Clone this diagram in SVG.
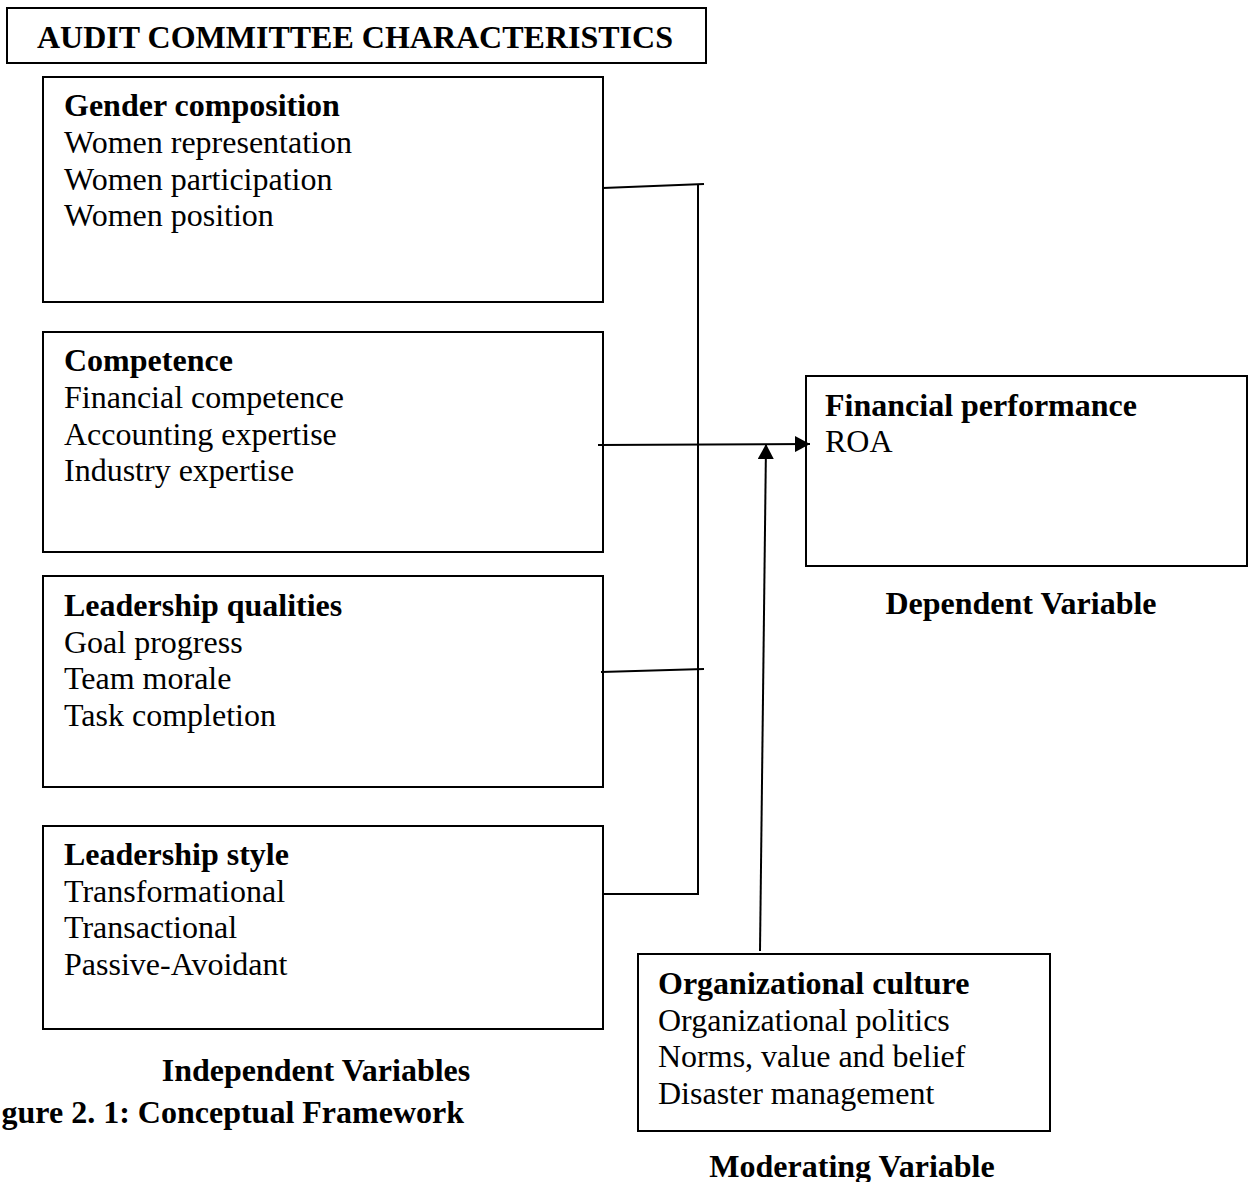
<svg xmlns="http://www.w3.org/2000/svg" width="1255" height="1182" viewBox="0 0 1255 1182">
<defs>
<style>
.box{fill:#fff;stroke:#000;stroke-width:2}
.t{font-family:"Liberation Serif","Times New Roman",serif;font-size:32px;fill:#000}
.b{font-weight:bold}
.ln{stroke:#000;stroke-width:2;fill:none}
</style>
<marker id="ah" markerWidth="16" markerHeight="16" refX="15" refY="8" orient="auto" markerUnits="userSpaceOnUse">
<path d="M0,0 L15,8 L0,16 Z" fill="#000"/>
</marker>
</defs>
<rect width="1255" height="1182" fill="#fff"/>
<g id="title">
<rect class="box" x="7" y="8" width="699" height="55"/>
<text class="t b" x="37" y="48">AUDIT COMMITTEE CHARACTERISTICS</text>
</g>
<g id="gender">
<rect class="box" x="43" y="77" width="560" height="225"/>
<text class="t b" x="64" y="116">Gender composition</text>
<text class="t" x="64" y="153">Women representation</text>
<text class="t" x="64" y="190">Women participation</text>
<text class="t" x="64" y="226">Women position</text>
</g>
<g id="competence">
<rect class="box" x="43" y="332" width="560" height="220"/>
<text class="t b" x="64" y="371">Competence</text>
<text class="t" x="64" y="408">Financial competence</text>
<text class="t" x="64" y="445">Accounting expertise</text>
<text class="t" x="64" y="481">Industry expertise</text>
</g>
<g id="leadership-qualities">
<rect class="box" x="43" y="576" width="560" height="211"/>
<text class="t b" x="64" y="616">Leadership qualities</text>
<text class="t" x="64" y="653">Goal progress</text>
<text class="t" x="64" y="689">Team morale</text>
<text class="t" x="64" y="726">Task completion</text>
</g>
<g id="leadership-style">
<rect class="box" x="43" y="826" width="560" height="203"/>
<text class="t b" x="64" y="865">Leadership style</text>
<text class="t" x="64" y="902">Transformational</text>
<text class="t" x="64" y="938">Transactional</text>
<text class="t" x="64" y="975">Passive-Avoidant</text>
</g>
<g id="financial-performance">
<rect class="box" x="806" y="376" width="441" height="190"/>
<text class="t b" x="825" y="416">Financial performance</text>
<text class="t" x="825" y="452">ROA</text>
</g>
<g id="organizational-culture">
<rect class="box" x="638" y="954" width="412" height="177"/>
<text class="t b" x="658" y="994">Organizational culture</text>
<text class="t" x="658" y="1031">Organizational politics</text>
<text class="t" x="658" y="1067">Norms, value and belief</text>
<text class="t" x="658" y="1104">Disaster management</text>
</g>
<g id="labels">
<text class="t b" x="1021" y="614" text-anchor="middle">Dependent Variable</text>
<text class="t b" x="316" y="1081" text-anchor="middle">Independent Variables</text>
<text class="t b" x="464" y="1123" text-anchor="end">gure 2. 1: Conceptual Framework</text>
<text class="t b" x="852" y="1177" text-anchor="middle">Moderating Variable</text>
</g>
<g id="connectors">
<line class="ln" x1="603" y1="188" x2="704" y2="184"/>
<line class="ln" x1="698" y1="184" x2="698" y2="894"/>
<line class="ln" x1="601" y1="672" x2="704" y2="669"/>
<line class="ln" x1="603" y1="894" x2="699" y2="894"/>
<line class="ln" x1="598" y1="445" x2="810" y2="444" marker-end="url(#ah)"/>
<line class="ln" x1="760" y1="951" x2="766" y2="444" marker-end="url(#ah)"/>
</g>
</svg>
